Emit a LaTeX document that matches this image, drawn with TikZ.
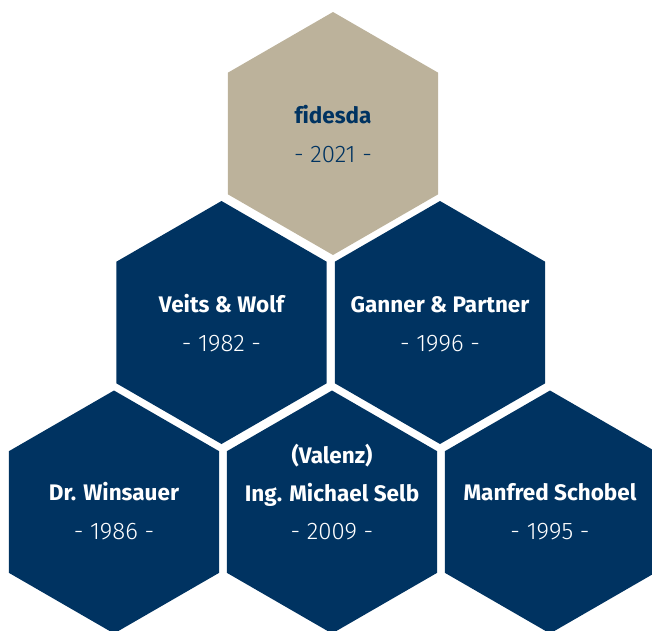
\documentclass[tikz,border=0pt]{standalone}
\usepackage{fontspec}
\setmainfont{Fira Sans}[Ligatures=NoCommon]
\newfontfamily\yearfont{Fira Sans Light}
\usetikzlibrary{shapes.geometric}
\definecolor{navy}{HTML}{003361}
\definecolor{tan}{HTML}{BCB29B}
\tikzset{
  hexnode/.style={regular polygon, regular polygon sides=6, shape border rotate=30,
    minimum size=243pt, inner sep=0pt, outer sep=0pt, draw=none},
  title/.style={anchor=base, inner sep=0pt, font=\bfseries\fontsize{22.5}{26}\selectfont},
  year/.style={anchor=base, inner sep=0pt, font=\yearfont\fontsize{24}{28}\selectfont}
}
\begin{document}
\begin{tikzpicture}[x=1pt,y=-1pt]
\useasboundingbox (0,0) rectangle (652,630);
\begin{scope}
\clip (0,0) rectangle (652,630);
\node[hexnode, fill=tan]  (h1) at (333,133.5) {};
\node[hexnode, fill=navy] (h2) at (221.5,322.5) {};
\node[hexnode, fill=navy] (h3) at (440,322.5) {};
\node[hexnode, fill=navy] (h4) at (114,512) {};
\node[hexnode, fill=navy] (h5) at (332,512) {};
\node[hexnode, fill=navy] (h6) at (550,512) {};
\end{scope}
\node[title, text=navy] (t1) at (333,123.5) {fidesda};
\node[year, text=navy] (y1) at (333,162.3) {- 2021 -};
\node[title, text=white] (t2) at (221.5,312.7) {Veits \& Wolf};
\node[year, text=white] (y2) at (221.5,351) {- 1982 -};
\node[title, text=white] (t3) at (440,312.7) {Ganner \& Partner};
\node[year, text=white] (y3) at (440,351) {- 1996 -};
\node[title, text=white] (t4) at (114,500.7) {Dr. Winsauer};
\node[year, text=white] (y4) at (114,539) {- 1986 -};
\node[title, text=white] (t5a) at (332,463) {(Valenz)};
\node[title, text=white] (t5) at (332,501) {Ing. Michael Selb};
\node[year, text=white] (y5) at (332,539) {- 2009 -};
\node[title, text=white] (t6) at (550,500.7) {Manfred Schobel};
\node[year, text=white] (y6) at (550,539) {- 1995 -};
\end{tikzpicture}
\end{document}
